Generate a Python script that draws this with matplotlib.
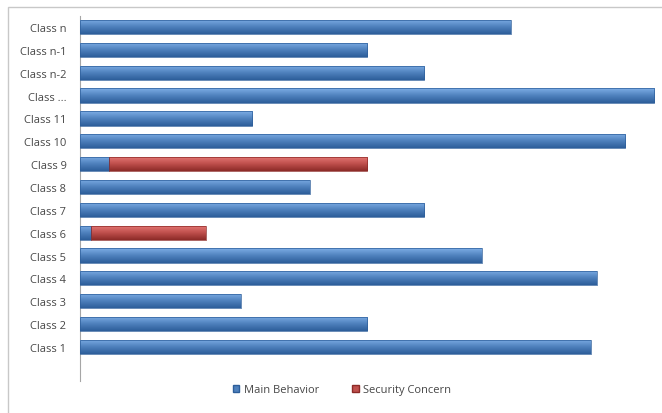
import numpy as np
import matplotlib.pyplot as plt
from matplotlib.patches import Rectangle
from matplotlib.colors import LinearSegmentedColormap

CLASSES = ['Class 1', 'Class 2', 'Class 3', 'Class 4', 'Class 5', 'Class 6',
           'Class 7', 'Class 8', 'Class 9', 'Class 10', 'Class 11',
           'Class ...', 'Class n-2', 'Class n-1', 'Class n']
MAIN_BEHAVIOR = [89, 50, 28, 90, 70, 2, 60, 40, 5, 95, 30, 100, 60, 50, 75]
SECURITY_CONCERN = [0, 0, 0, 0, 0, 20, 0, 0, 45, 0, 0, 0, 0, 0, 0]

BLUE = ['#7eaee6', '#4f81bd', '#2d5e9a']
RED = ['#e77a77', '#c0504d', '#8c2a27']


def shade_bars(ax, bars, colors):
    # paint each bar with a vertical gradient, light on top, dark at the bottom
    cmap = LinearSegmentedColormap.from_list('shade', colors)
    grad = np.linspace(0, 1, 64).reshape(-1, 1)
    for bar in bars:
        if bar.get_width() <= 0:
            continue
        x0, y0 = bar.get_x(), bar.get_y()
        x1, y1 = x0 + bar.get_width(), y0 + bar.get_height()
        im = ax.imshow(grad, cmap=cmap, aspect='auto', origin='lower',
                       extent=(x0, x1, y1, y0), zorder=3, interpolation='bilinear')
        im.set_clip_path(bar)
        bar.set_facecolor('none')
        bar.set_edgecolor(colors[2])
        bar.set_linewidth(0.5)
        bar.set_zorder(4)


fig = plt.figure(figsize=(6.62, 4.14), dpi=100)
plt.rcParams['font.family'] = ['Open Sans', 'DejaVu Sans']

# light frame around the whole chart
fig.patches.append(Rectangle((8 / 662, -0.1), 1.2, (414 - 8) / 414 + 0.1,
                             transform=fig.transFigure, facecolor='white',
                             edgecolor='#c8c8c8', linewidth=1, zorder=-5))

ax = fig.add_axes([80 / 662, (414 - 382) / 414, 577 / 662, (382 - 16.6) / 414])
ax.set_facecolor('none')
ax.set_zorder(2)

y = np.arange(len(CLASSES))
main_bars = ax.barh(y, MAIN_BEHAVIOR, height=0.62, label='Main Behavior')
sec_bars = ax.barh(y, SECURITY_CONCERN, left=MAIN_BEHAVIOR, height=0.62,
                   label='Security Concern')
shade_bars(ax, main_bars, BLUE)
shade_bars(ax, sec_bars, RED)

ax.set_xlim(0, 100.5)
ax.set_ylim(-1.49, len(CLASSES) - 0.5)
ax.set_yticks(y)
ax.set_yticklabels(CLASSES, fontsize=8, color='#474747')
ax.tick_params(axis='y', length=0, pad=9.8)
ax.set_xticks([])
for side in ['top', 'right', 'bottom']:
    ax.spines[side].set_visible(False)
ax.spines['left'].set_color('#a6a6a6')
ax.spines['left'].set_linewidth(0.8)

handles = [Rectangle((0, 0), 1, 1, facecolor=BLUE[1], edgecolor=BLUE[2]),
           Rectangle((0, 0), 1, 1, facecolor=RED[1], edgecolor=RED[2])]
fig.legend(handles, ['Main Behavior', 'Security Concern'], loc='center',
           bbox_to_anchor=(342 / 662, 1 - 391 / 414), ncol=2, frameon=False,
           fontsize=8, handlelength=0.6, handleheight=0.6, handletextpad=0.4,
           columnspacing=3.0, labelcolor='#474747')

fig.savefig('out.png', dpi=100)
